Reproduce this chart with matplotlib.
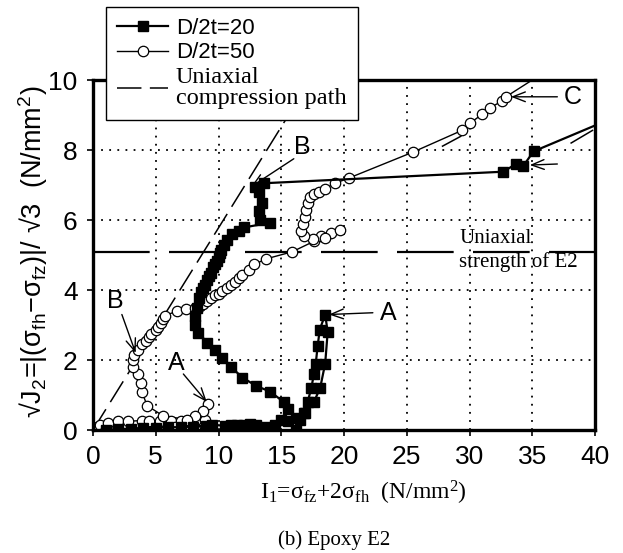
import matplotlib.pyplot as plt

plt.rcParams['font.family'] = ['Liberation Sans', 'DejaVu Sans']
plt.rcParams['mathtext.default'] = 'regular'

# D/2t=20 (filled squares)
d20_x = [1.0, 2.0, 3.0, 4.0, 5.0, 6.0, 7.0, 8.0, 9.0, 9.5, 10.5, 11.0, 11.5, 12.0, 12.5,
         13.0, 13.8, 14.5, 15.0, 15.5, 16.2, 16.5, 16.8, 17.1, 17.4, 17.6, 17.75, 17.9,
         18.07, 18.5, 18.7, 18.5, 18.1, 17.6, 16.9, 16.2, 15.5, 15.2, 14.1, 13.0, 11.9,
         11.0, 10.3, 9.7, 9.1, 8.4, 8.1, 8.1, 8.3, 8.44, 8.6, 8.75, 8.9, 9.1, 9.25, 9.4,
         9.6, 9.75, 9.86, 10.0, 10.1, 10.2, 10.4, 10.65, 11.1, 11.6, 12.07, 14.1, 13.3,
         13.2, 13.5, 13.2, 12.9, 13.6, 32.7, 33.7, 34.3, 35.1, 40.0]
d20_y = [0.0, 0.02, 0.04, 0.06, 0.06, 0.08, 0.08, 0.1, 0.12, 0.15, 0.12, 0.15, 0.15, 0.15, 0.17,
         0.15, 0.1, 0.15, 0.3, 0.25, 0.0, 0.3, 0.5, 0.8, 1.2, 1.6, 1.9, 2.4,
         2.87, 3.3, 2.8, 1.9, 1.2, 0.8, 0.5, 0.35, 0.6, 0.8, 1.1, 1.26, 1.5,
         1.8, 2.06, 2.3, 2.5, 2.77, 3.0, 3.27, 3.5, 3.78, 3.95, 4.05, 4.13, 4.3, 4.4, 4.48,
         4.65, 4.75, 4.84, 4.95, 5.05, 5.14, 5.3, 5.44, 5.6, 5.69, 5.79, 5.92, 6.0,
         6.25, 6.5, 6.8, 6.95, 7.05, 7.38, 7.6, 7.55, 7.96, 8.7]

# D/2t=50 (open circles)
d50_x = [0.0, 0.3, 0.55, 1.0, 1.2, 2.0, 2.8, 3.9, 4.5, 5.3, 6.2, 6.55, 7.0, 8.1, 8.9, 9.2,
         8.76, 8.1, 7.5, 5.6, 4.3, 3.9, 3.8, 3.55, 3.2, 3.2, 3.3, 3.55, 3.9, 4.2, 4.45, 4.65,
         5.0, 5.2, 5.4, 5.6, 5.76, 6.7, 7.4, 8.1, 8.5, 8.76, 9.1, 9.4, 9.7, 10.0, 10.3,
         10.65, 11.0, 11.3, 11.6, 11.9, 12.4, 12.86, 13.8, 15.86, 17.6, 18.2, 19.0, 19.65,
         18.5, 17.5, 16.8, 16.6, 16.7, 16.9, 17.0, 17.1, 17.3, 17.6, 18.0, 18.5, 19.3, 20.4,
         25.5, 29.4, 30.06, 31.0, 31.6, 32.6, 32.9, 35.0]
d50_y = [0.05, 0.1, 0.15, 0.03, 0.2, 0.25, 0.25, 0.27, 0.25, 0.25, 0.25, 0.1, 0.25, 0.02, 0.3, 0.75,
         0.55, 0.4, 0.3, 0.4, 0.7, 1.1, 1.35, 1.6, 1.8, 2.0, 2.15, 2.3, 2.45, 2.55, 2.65, 2.75,
         2.85, 2.95, 3.07, 3.17, 3.27, 3.4, 3.45, 3.5, 3.55, 3.6, 3.7, 3.77, 3.85, 3.9, 3.98,
         4.07, 4.15, 4.23, 4.33, 4.43, 4.58, 4.73, 4.89, 5.09, 5.39, 5.55, 5.64, 5.72,
         5.5, 5.45, 5.55, 5.7, 5.9, 6.1, 6.3, 6.5, 6.65, 6.75, 6.8, 6.9, 7.05, 7.2,
         7.94, 8.56, 8.77, 9.02, 9.2, 9.4, 9.52, 10.0]

# uniaxial compression path (slope 1/sqrt(3)) and stray dashes
comp_x = [0.0, 15.5]
comp_y = [0.0, 8.95]
dash1_x = [27.85, 29.3]
dash1_y = [8.11, 8.39]
dash2_x = [38.1, 39.8]
dash2_y = [8.2, 8.56]

strength_e2 = 5.1

fig = plt.figure(figsize=(6.23, 5.53), dpi=100)
ax = fig.add_axes([93 / 623, 1 - 430 / 553, 502 / 623, 350 / 553])

ax.grid(True, color='black', linestyle=(0, (1, 3.5)), linewidth=1.3)
ax.set_axisbelow(True)

ax.axhline(strength_e2, color='black', lw=1.6, dashes=(25.5, 8.7))

l_comp, = ax.plot(comp_x, comp_y, color='black', lw=1.1, dashes=(16, 5.5))
ax.plot(dash1_x, dash1_y, color='black', lw=1.1)
ax.plot(dash2_x, dash2_y, color='black', lw=1.1)

l50, = ax.plot(d50_x, d50_y, color='black', lw=1.0, marker='o', ms=7.5,
               mfc='white', mec='black', mew=0.9, markevery=list(range(len(d50_x) - 1)))
l20, = ax.plot(d20_x, d20_y, color='black', lw=1.6, marker='s', ms=6.8,
               mfc='black', mec='black', markevery=list(range(len(d20_x) - 1)))

ax.set_xlim(0, 40)
ax.set_ylim(0, 10)
ax.set_xticks(range(0, 41, 5))
ax.set_yticks(range(0, 11, 2))
ax.tick_params(labelsize=19, direction='out', length=4, width=1.2, pad=7)
for s in ax.spines.values():
    s.set_linewidth(2.4)

arrow = dict(arrowstyle='->,head_length=0.9,head_width=0.35', color='black', lw=1.0,
             shrinkA=0, shrinkB=0)
ax.annotate('', xy=(12.6, 6.95), xytext=(16.0, 7.75), arrowprops=arrow)
ax.text(16.7, 8.1, 'B', fontsize=18, ha='center', va='center')
ax.annotate('', xy=(3.4, 2.2), xytext=(2.3, 3.3), arrowprops=arrow)
ax.text(1.8, 3.7, 'B', fontsize=18, ha='center', va='center')
ax.annotate('', xy=(9.07, 0.8), xytext=(7.2, 1.6), arrowprops=arrow)
ax.text(6.6, 1.9, 'A', fontsize=18, ha='center', va='center')
ax.annotate('', xy=(18.8, 3.3), xytext=(22.3, 3.35), arrowprops=arrow)
ax.text(23.5, 3.34, 'A', fontsize=18, ha='center', va='center')
ax.annotate('', xy=(33.3, 9.52), xytext=(37.0, 9.52), arrowprops=arrow)
ax.text(38.2, 9.52, 'C', fontsize=18, ha='center', va='center')
ax.annotate('', xy=(34.8, 7.57), xytext=(37.0, 7.6), arrowprops=arrow)

ax.text(29.2, 5.12, 'Uniaxial\nstrength of E2', family='Liberation Serif', fontsize=15,
        ha='left', va='center', linespacing=1.3)

fig.text(33 / 623, 1 - 252 / 553,
         '√J$_2$=|(σ$_{fh}$−σ$_{fz}$)|/ √3  (N/mm$^2$)', rotation=90,
         ha='center', va='center', fontsize=19.5)
fig.text(363 / 623, 1 - 493 / 553, 'I$_1$=σ$_{fz}$+2σ$_{fh}$  (N/mm$^2$)',
         family='Liberation Serif', fontsize=17, ha='center', va='center')
fig.text(334 / 623, 1 - 540 / 553, '(b) Epoxy E2', family='Liberation Serif',
         fontsize=15, ha='center', va='center')

leg = ax.legend([l20, l50, l_comp], ['D/2t=20', 'D/2t=50', 'Uniaxial\ncompression path'],
                loc='upper left', bbox_to_anchor=(106 / 623, 1 - 7 / 553),
                bbox_transform=fig.transFigure, fontsize=16, frameon=True,
                fancybox=False, edgecolor='black', framealpha=1, borderpad=0.5,
                handlelength=2.3, handletextpad=0.35, labelspacing=0.15,
                borderaxespad=0)
leg.get_frame().set_linewidth(1.0)
leg.get_texts()[2].set_fontfamily('Liberation Serif')
leg.get_texts()[2].set_fontsize(17.5)
leg.get_texts()[2].set_linespacing(1.0)
leg.set_zorder(10)

fig.savefig('out.png', dpi=100)
